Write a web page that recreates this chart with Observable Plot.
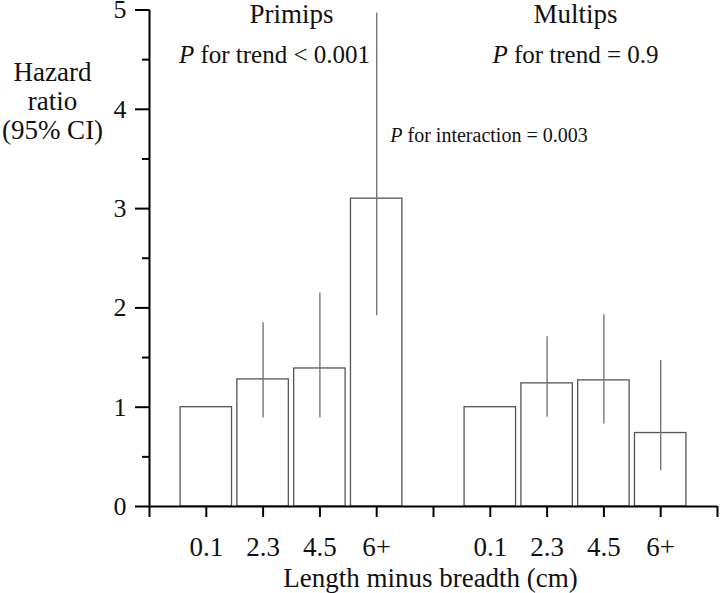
<!DOCTYPE html>
<html>
<head>
<meta charset="utf-8">
<script src="https://cdn.jsdelivr.net/npm/d3@7"></script>
<script src="https://cdn.jsdelivr.net/npm/@observablehq/plot@0.6"></script>
<style>
  html, body { margin: 0; padding: 0; background: white; }
  #chart { width: 720px; height: 593px; }
  #chart svg, #chart svg text { font-family: "Liberation Serif", "Times New Roman", Times, serif !important; }
</style>
</head>
<body>
<div id="chart"></div>
<script>
// ---- data ----
const categories = ["0.1", "2.3", "4.5", "6+"];
const groups = ["Primips", "Multips"];
const primipsHR = [1.00, 1.28, 1.39, 3.10];
const primipsLo = [null, 0.89, 0.89, 1.92];
const primipsHi = [null, 1.85, 2.15, 4.97];
const multipsHR = [1.00, 1.24, 1.27, 0.74];
const multipsLo = [null, 0.90, 0.83, 0.36];
const multipsHi = [null, 1.71, 1.93, 1.47];
const trendLabels = ["P for trend < 0.001", "P for trend = 0.9"];
const interactionLabel = "P for interaction = 0.003";
const yTicks = [0, 1, 2, 3, 4, 5];
const yMinorTicks = [0.5, 1.5, 2.5, 3.5, 4.5];
const xTitle = "Length minus breadth (cm)";
const yTitle = "Hazard\nratio\n(95% CI)";

// ---- build table ----
const series = [
  {hr: primipsHR, lo: primipsLo, hi: primipsHi},
  {hr: multipsHR, lo: multipsLo, hi: multipsHi}
];
const rows = [];
series.forEach((s, g) => {
  categories.forEach((c, i) => {
    rows.push({group: groups[g], cat: c, pos: g * 5 + i + 1, hr: s.hr[i], lo: s.lo[i], hi: s.hi[i]});
  });
});
const labelByPos = new Map(rows.map(d => [d.pos, d.cat]));
const groupCenters = groups.map((g, gi) => ({
  group: g,
  trend: trendLabels[gi],
  x: d3.mean(rows.filter(d => d.group === g), d => d.pos)
}));
const xTickPositions = d3.range(0, 11);

const font = "Liberation Serif, Times New Roman, Times, serif";
const ink = "#111";

const chart = Plot.plot({
  width: 720,
  height: 593,
  marginLeft: 149,
  marginRight: 3,
  marginTop: 9.5,
  marginBottom: 87,
  style: {fontFamily: font, fontSize: "25px", background: "white", color: ink},
  x: {domain: [0, 10], axis: null},
  y: {domain: [0, 5], axis: null},
  marks: [
    Plot.rectY(rows, {
      x1: d => d.pos - 0.453, x2: d => d.pos + 0.453, y1: 0, y2: "hr",
      fill: "white", stroke: "#555", strokeWidth: 1.3
    }),
    Plot.ruleX(rows.filter(d => d.lo != null), {
      x: "pos", y1: "lo", y2: "hi", stroke: "#777", strokeWidth: 1.4
    }),
    Plot.ruleY([0], {stroke: "black", strokeWidth: 2}),
    Plot.ruleX([0], {stroke: "black", strokeWidth: 2}),
    Plot.axisY({ticks: yTicks, tickSize: 14, tickPadding: 9, strokeWidth: 2, stroke: "black",
      fontSize: 26, fontFamily: font, fill: ink, tickFormat: d => String(d), label: null}),
    Plot.axisY({ticks: yMinorTicks, tickSize: 7, strokeWidth: 2, stroke: "black",
      tickFormat: () => "", label: null}),
    Plot.axisX({ticks: xTickPositions, tickSize: 11, strokeWidth: 2, stroke: "black",
      tickFormat: () => "", label: null}),
    Plot.axisX({ticks: rows.map(d => d.pos), tickSize: 0, tickPadding: 30, fontSize: 27,
      fontFamily: font, fill: ink, tickFormat: p => labelByPos.get(p), label: null}),
    Plot.text([xTitle], {text: d => d, frameAnchor: "bottom", dx: -3, dy: 80,
      lineAnchor: "bottom", fontSize: 27, fontFamily: font, fill: ink}),
    Plot.text([yTitle], {text: d => d, frameAnchor: "top-left", dx: -97, dy: 50,
      textAnchor: "middle", lineAnchor: "top", lineHeight: 1.08, fontSize: 27, fontFamily: font, fill: ink}),
    Plot.text(groupCenters, {text: "group", x: "x", frameAnchor: "top", dy: 13,
      lineAnchor: "bottom", fontSize: 27, fontFamily: font, fill: ink}),
    Plot.text(groupCenters, {text: "trend", x: "x", frameAnchor: "top", dy: 52.5,
      lineAnchor: "bottom", fontSize: 25, fontFamily: font, fill: ink}),
    Plot.text([interactionLabel], {text: d => d, x: [4.24], y: [3.67], textAnchor: "start",
      lineAnchor: "bottom", fontSize: 20, fontFamily: font, fill: ink})
  ]
});

const ns = "http://www.w3.org/2000/svg";
d3.select(chart).selectAll("text").each(function() {
  let el = this;
  const tsps = el.querySelectorAll("tspan");
  if (tsps.length === 1) el = tsps[0];
  const t = el.textContent;
  if (!t || !t.startsWith("P for")) return;
  // shift the Primips trend label left a little (as in the reference)
  if (t === trendLabels[0]) {
    const cur = parseFloat(this.getAttribute("dx") || "0");
    this.setAttribute("dx", String(cur - 17));
  }
  // italic "P" in the P-value annotations
  el.textContent = "";
  const a = document.createElementNS(ns, "tspan");
  a.setAttribute("font-style", "italic");
  a.textContent = "P";
  const b = document.createElementNS(ns, "tspan");
  b.textContent = t.slice(1);
  el.appendChild(a);
  el.appendChild(b);
});

document.getElementById("chart").appendChild(chart);
</script>
</body>
</html>
